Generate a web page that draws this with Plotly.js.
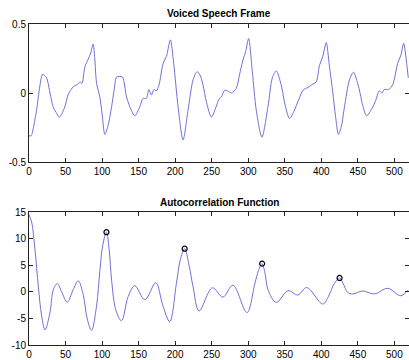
<!DOCTYPE html>
<html>
<head>
<meta charset="utf-8">
<script src="https://cdn.plot.ly/plotly-3.0.1.min.js"></script>
<style>html,body{margin:0;padding:0;background:#fff;}#chart{width:409px;height:360px;}</style>
</head>
<body>
<div id="chart"></div>
<script>
var speechN = [0,3,6,10.5,14,18.7,24,28,33,37,41.4,45,49,53.7,57,61.5,66,69.7,72.5,76.5,81,84.5,87.8,90,92.5,97,100,103.8,108,113,116.5,119.8,124,128,133.5,140,144.8,151.6,156,160.6,164,167.6,170.8,174.4,178,183.5,188,193.5,198,204,210.8,217.6,224.5,230,234,238,243,249.6,256,260,263,267.8,272,277,283.7,288,292.8,296.5,300.5,305.6,311,318.7,327,333,338.4,345,351,356.6,362.4,369.3,375.7,381.6,388.4,393,397.5,402,406.7,411,415.8,419.5,423.5,427.5,431.7,438.5,444,451,456.7,462,469.5,474,479.5,483,486,492,497.7,504.5,509,512.7,516.8,519];
var speech = [-0.31,-0.31,-0.25,-0.12,0.02,0.135,0.11,0.02,-0.10,-0.14,-0.175,-0.15,-0.10,-0.01,0.02,0.05,0.06,0.08,0.07,0.19,0.245,0.29,0.355,0.25,0.07,-0.03,-0.15,-0.30,-0.24,-0.10,0.02,0.115,0.12,0.115,-0.03,-0.125,-0.165,-0.10,-0.04,-0.04,0.025,-0.015,0.025,0.015,0.06,0.215,0.265,0.385,0.215,-0.10,-0.34,-0.125,0.095,0.155,0.13,0.06,-0.07,-0.175,-0.10,-0.045,-0.03,0.02,0.015,0.0,0.035,0.13,0.24,0.30,0.395,0.155,-0.125,-0.32,-0.10,0.11,0.16,0.06,-0.10,-0.185,-0.135,-0.045,0.025,0.04,0.065,0.08,0.20,0.265,0.365,0.20,0.0,-0.17,-0.30,-0.24,-0.10,0.095,0.15,0.045,-0.09,-0.165,-0.11,-0.06,0.015,0.0,0.025,0.025,0.06,0.215,0.275,0.36,0.215,0.11];

var lagN = [0,3.6,8.2,12.8,17.3,21.9,28.7,33.2,38.7,44.6,52.3,60.5,67.4,74.2,79.7,85.6,92.4,97,101,106,110,113,119,126.6,135.7,144.8,158.5,173.5,183,192.6,201.7,207,213,219,224.5,232.7,250.9,265.4,279,298.2,309,314,318.7,323,327,338.4,354.3,367.9,380,402,410,418,425,430,436,443,456.7,472.7,490.8,509,519];
var autocorr = [14.5,13.1,7.9,0.95,-4.5,-7.15,-3.9,0.35,1.55,0,-1.95,0.4,2.05,-0.55,-5.1,-7.25,-2.7,4.0,8.8,11.2,7.5,2.2,-3.5,-5.45,-0.9,1.15,-1.5,1.7,-2.5,-5.6,1.55,6,8.1,5,0.95,-3.6,0.75,-1.0,1.25,-3.9,1.5,4.0,5.3,3.5,0.4,-2.0,0.2,-0.6,0.8,-2.3,-0.8,1.6,2.6,1.5,-0.1,-0.4,0.15,-0.4,0.65,-0.75,0.35];

var peakLags = [106, 213, 319, 425];
var peakVals = [11.2, 8.1, 5.3, 2.6];

var xTicks = [0,50,100,150,200,250,300,350,400,450,500];
var yTicksTop = [-0.5, 0, 0.5];
var yTickTextTop = ["-0.5", "0", "0.5"];
var yTicksBot = [-10, -5, 0, 5, 10, 15];
var yTickTextBot = ["-10", "-5", "0", "5", "10", "15"];

var titles = ["Voiced Speech Frame", "Autocorrelation Function"];

var lineColor = '#7070d8';
var fontFam = 'Liberation Sans, Arial, sans-serif';

var traces = [
  {x: speechN, y: speech, type: 'scatter', mode: 'lines', line: {color: lineColor, width: 1, shape: 'spline', smoothing: 0.8}, xaxis: 'x', yaxis: 'y', hoverinfo: 'skip'},
  {x: lagN, y: autocorr, type: 'scatter', mode: 'lines', line: {color: lineColor, width: 1, shape: 'spline', smoothing: 1}, xaxis: 'x2', yaxis: 'y2', hoverinfo: 'skip'},
  {x: peakLags, y: peakVals, type: 'scatter', mode: 'markers', marker: {symbol: 'circle-open', size: 5, color: '#000', line: {width: 1.2, color: '#000'}}, xaxis: 'x2', yaxis: 'y2', hoverinfo: 'skip'}
];

function xax(anchor) {
  return {domain: [0, 1], range: [0, 520], anchor: anchor, tickvals: xTicks, ticktext: xTicks.map(String),
    ticks: 'inside', ticklen: 4, tickcolor: '#222', showline: true, linecolor: '#222', linewidth: 1, mirror: 'ticks',
    showgrid: false, zeroline: false, tickfont: {size: 10, color: '#000', family: fontFam}};
}
function yax(anchor, dom, rng, tv, tt) {
  return {domain: dom, range: rng, anchor: anchor, tickvals: tv, ticktext: tt,
    ticks: 'inside', ticklen: 4, tickcolor: '#222', showline: true, linecolor: '#222', linewidth: 1, mirror: 'ticks',
    showgrid: false, zeroline: false, tickfont: {size: 10, color: '#000', family: fontFam}};
}

var layout = {
  width: 409, height: 360,
  margin: {l: 29, r: 0, t: 0, b: 0},
  paper_bgcolor: '#fff', plot_bgcolor: '#fff',
  showlegend: false,
  font: {family: fontFam, size: 10, color: '#000'},
  xaxis: xax('y'),
  yaxis: yax('x', [1 - 162/360, 1 - 24/360], [-0.5, 0.5], yTicksTop, yTickTextTop),
  xaxis2: xax('y2'),
  yaxis2: yax('x2', [1 - 345/360, 1 - 212/360], [-10, 15], yTicksBot, yTickTextBot),
  annotations: [
    {text: '<b>' + titles[0] + '</b>', xref: 'paper', yref: 'paper', x: 0.5, y: 1 - 14/360, xanchor: 'center', yanchor: 'middle', showarrow: false, font: {size: 10, color: '#000', family: fontFam}},
    {text: '<b>' + titles[1] + '</b>', xref: 'paper', yref: 'paper', x: 0.5, y: 1 - 202/360, xanchor: 'center', yanchor: 'middle', showarrow: false, font: {size: 10, color: '#000', family: fontFam}}
  ]
};

Plotly.newPlot('chart', traces, layout, {displayModeBar: false, staticPlot: true});
</script>
</body>
</html>
